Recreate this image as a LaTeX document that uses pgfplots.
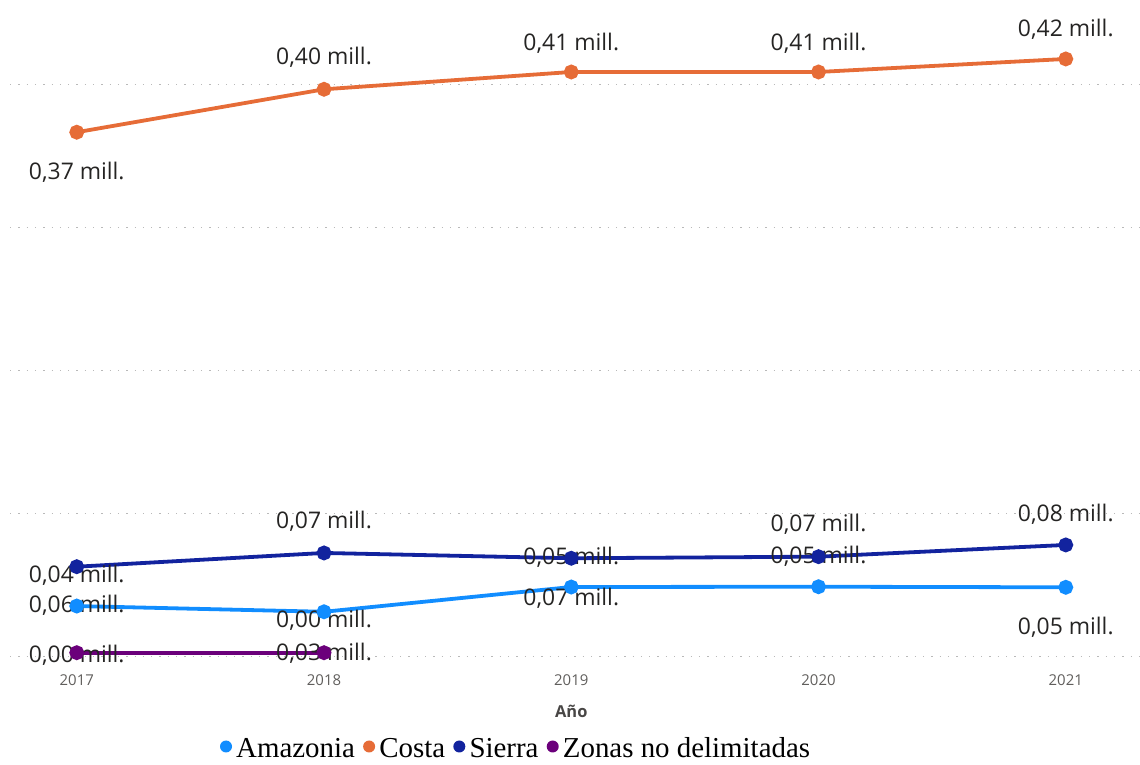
\documentclass[border=0pt]{standalone}
\usepackage{pgfplots}
\pgfplotsset{compat=1.18}
\usepackage{fontspec}
\setmainfont{Open Sans}
\newfontfamily\legfont{Liberation Serif}
\definecolor{amaz}{HTML}{118DFF}
\definecolor{costa}{HTML}{E66C37}
\definecolor{sierra}{HTML}{12239E}
\definecolor{zonas}{HTML}{6B007B}
\definecolor{lbl}{HTML}{252423}
\definecolor{tick}{HTML}{605E5C}
\begin{document}
\begin{tikzpicture}
\useasboundingbox (0,0) rectangle (1140bp,765bp);
\begin{axis}[
  at={(10bp,105bp)}, anchor=south west,
  scale only axis, width=1130bp, height=660bp,
  xmin=2016.73, xmax=2021.30,
  ymin=-0.0023, ymax=0.4589,
  axis lines=none,
  clip=false,
  xtick={2017,2018,2019,2020,2021},
  ytick={0,0.1,0.2,0.3,0.4},
  yticklabels={},
  /pgf/number format/1000 sep={},
  /pgf/number format/assume math mode=true,
]
% gridlines
\foreach \g in {0,0.1,0.2,0.3,0.4}{
  \edef\tmp{\noexpand\draw[gray!55, line width=1.3bp, dash pattern=on 1.3bp off 7bp] (axis cs:2016.73,\g) -- (axis cs:2021.30,\g);}
  \tmp
}
\addplot[amaz, line width=3.8bp, mark=*, mark size=5.5bp] coordinates {(2017,0.0354)(2018,0.0314)(2019,0.0487)(2020,0.0489)(2021,0.0485)};
\addplot[costa, line width=3.8bp, mark=*, mark size=5.5bp] coordinates {(2017,0.3665)(2018,0.3965)(2019,0.4086)(2020,0.4086)(2021,0.4177)};
\addplot[sierra, line width=3.8bp, mark=*, mark size=5.5bp] coordinates {(2017,0.0629)(2018,0.0725)(2019,0.0688)(2020,0.0699)(2021,0.0781)};
\addplot[zonas, line width=3.8bp, mark=*, mark size=5.5bp] coordinates {(2017,0.0028)(2018,0.0028)};
% tick labels and axis title
\foreach \yr in {2017,2018,2019,2020,2021}{
  \edef\tmp{\noexpand\node[text=tick, font=\noexpand\fontsize{15}{17}\noexpand\selectfont] at (axis cs:\yr,-0.0165) {\yr};}
  \tmp
}
\node[text=tick!75!black, font=\fontsize{16.5}{19}\selectfont\bfseries] at (axis cs:2019,-0.0385) {Año};
% data labels
\tikzset{dl/.style={text=lbl, font=\fontsize{23}{26}\selectfont, inner sep=0pt}}
\node[dl] at (axis cs:2017,0.3387) {0,37 mill.};
\node[dl] at (axis cs:2018,0.4191) {0,40 mill.};
\node[dl] at (axis cs:2019,0.4289) {0,41 mill.};
\node[dl] at (axis cs:2020,0.4289) {0,41 mill.};
\node[dl] at (axis cs:2021,0.4386) {0,42 mill.};
\node[dl] at (axis cs:2017,0.0571) {0,04 mill.};
\node[dl] at (axis cs:2018,0.0948) {0,07 mill.};
\node[dl] at (axis cs:2019,0.0697) {0,05 mill.};
\node[dl] at (axis cs:2020,0.0927) {0,07 mill.};
\node[dl] at (axis cs:2020,0.0704) {0,05 mill.};
\node[dl] at (axis cs:2021,0.0997) {0,08 mill.};
\node[dl] at (axis cs:2017,0.0361) {0,06 mill.};
\node[dl] at (axis cs:2018,0.0257) {0,00 mill.};
\node[dl] at (axis cs:2019,0.0410) {0,07 mill.};
\node[dl] at (axis cs:2021,0.0208) {0,05 mill.};
\node[dl] at (axis cs:2017,0.0012) {0,00 mill.};
\node[dl] at (axis cs:2018,0.0026) {0,03 mill.};
\end{axis}
% legend
\begin{scope}[font=\legfont\fontsize{29}{31}\selectfont]
\node[anchor=base west, inner sep=0pt] (l1) at (236bp,8bp) {Amazonia};
\fill[amaz] (226bp,18.5bp) circle (6bp);
\node[anchor=base west, inner sep=0pt] (l2) at ([xshift=24bp]l1.base east) {Costa};
\fill[costa] ([xshift=-10bp,yshift=10.5bp]l2.base west) circle (6bp);
\node[anchor=base west, inner sep=0pt] (l3) at ([xshift=24bp]l2.base east) {Sierra};
\fill[sierra] ([xshift=-10bp,yshift=10.5bp]l3.base west) circle (6bp);
\node[anchor=base west, inner sep=0pt] (l4) at ([xshift=24bp]l3.base east) {Zonas no delimitadas};
\fill[zonas] ([xshift=-10bp,yshift=10.5bp]l4.base west) circle (6bp);
\end{scope}
\end{tikzpicture}
\end{document}
